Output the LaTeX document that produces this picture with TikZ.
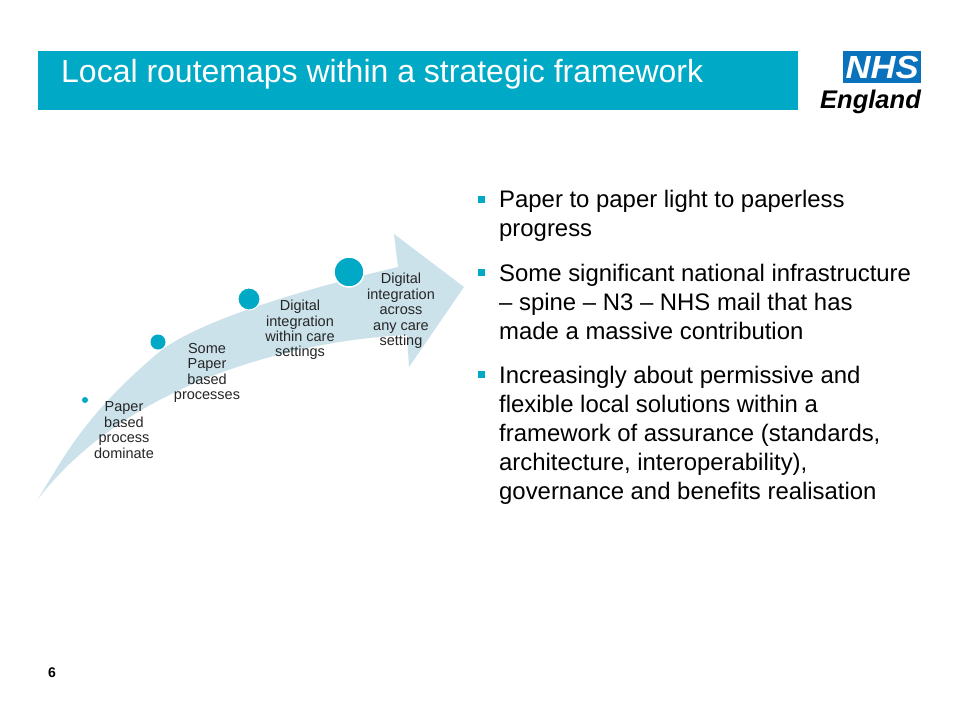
\documentclass[tikz,border=0pt]{standalone}
\usepackage{fontspec}
\setmainfont{Liberation Sans}
\usepackage{xcolor}
\usetikzlibrary{positioning}
\definecolor{nhsteal}{HTML}{00A9C6}
\definecolor{nhslight}{HTML}{CBE2EB}
\definecolor{nhsblue}{HTML}{0A72BC}
\begin{document}
\begin{tikzpicture}[
	x=1pt, y=-1pt,
	stage/.style={align=center, inner sep=0pt, font=\fontsize{14.5}{15.4}\selectfont, text=black!85},
	dot/.style={circle, fill=nhsteal, inner sep=0pt},
	point/.style={align=left, anchor=north west, inner sep=0pt, font=\fontsize{23.9}{29}\selectfont, text=black},
	bullet/.style={fill=nhsteal, minimum size=7pt, inner sep=0pt}
	]
	\useasboundingbox (0,0) rectangle (960,720);
	\fill[white] (0,0) rectangle (960,720);
	% title bar
	\node[fill=nhsteal, minimum width=760pt, minimum height=59pt, inner sep=0pt, anchor=north west] (bar) at (38,51) {};
	\node[anchor=west, inner sep=0pt, text=white, font=\fontsize{32}{36}\selectfont] (title) at (61,74) {Local routemaps within a strategic framework};
	% logo
	\node[fill=nhsblue, minimum width=78pt, minimum height=32pt, inner sep=0pt, anchor=north west] (nhs) at (843,51) {};
	\node[text=white, inner sep=0pt, xscale=1.08, font=\fontsize{32}{32}\selectfont\bfseries\itshape] (nhstext) at (nhs.center) {NHS};
	\node[anchor=north east, inner sep=0pt, font=\fontsize{25.5}{30}\selectfont\bfseries\itshape] (england) at (921,90) {England};
	% curved arrow
	\fill[nhslight] (38,499) .. controls (65,455) and (85,415) .. (158,353)
		.. controls (195,322) and (300,290) .. (398,267)
		-- (394,234) -- (464,287) -- (409,367) -- (407,335)
		.. controls (300,340) and (130,380) .. (38,499) -- cycle;
	% stages
	\node[dot, minimum size=6pt] (d1) at (85,400) {};
	\node[dot, minimum size=15pt] (d2) at (158,342) {};
	\node[dot, draw=white, line width=1pt, minimum size=22pt] (d3) at (249,299) {};
	\node[dot, draw=white, line width=1.5pt, minimum size=30pt] (d4) at (349,272) {};
	\node[stage] (s1) at (124,430) {Paper\\based\\process\\dominate};
	\node[stage] (s2) at (207,373) {Some\\Paper\\based\\processes};
	\node[stage] (s3) at (300,330) {Digital\\integration\\within care\\settings};
	\node[stage] (s4) at (401,311) {Digital\\integration\\across\\any care\\setting};
	% bullets
	\node[bullet] (b1) at (481,199) {};
	\node[point] (p1) at (499,190) {Paper to paper light to paperless\\progress};
	\node[bullet] (b2) at (481,272) {};
	\node[point] (p2) at (499,264) {Some significant national infrastructure\\– spine – N3 – NHS mail that has\\made a massive contribution};
	\node[bullet] (b3) at (481,374) {};
	\node[point] (p3) at (499,366) {Increasingly about permissive and\\flexible local solutions within a\\framework of assurance (standards,\\architecture, interoperability),\\governance and benefits realisation};
	% page number
	\node[inner sep=0pt, font=\fontsize{14}{16}\selectfont\bfseries] (page) at (52,673) {6};
\end{tikzpicture}
\end{document}
